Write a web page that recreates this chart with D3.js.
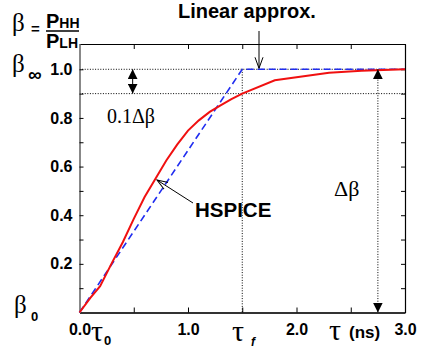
<!DOCTYPE html>
<html>
<head>
<meta charset="utf-8">
<script src="https://cdn.jsdelivr.net/npm/d3@7"></script>
<style>
  html, body { margin: 0; padding: 0; background: #fff; }
  svg { display: block; }
  .sans { font-family: "Liberation Sans", Arial, sans-serif; font-weight: bold; }
  .serif { font-family: "Liberation Serif", "Times New Roman", serif; }
</style>
</head>
<body>
<svg id="chart" width="422" height="351"></svg>
<script>
// ---- data ----
const hspiceTau  = [0, 0.1, 0.19, 0.3, 0.4, 0.5, 0.6, 0.7, 0.8, 0.9, 1.0, 1.1, 1.2, 1.3, 1.4, 1.5, 1.8, 2.3, 2.6, 3.0];
const hspiceBeta = [0, 0.06, 0.108, 0.205, 0.29, 0.385, 0.475, 0.55, 0.625, 0.69, 0.748, 0.79, 0.825, 0.852, 0.877, 0.9, 0.955, 0.986, 0.994, 1.0];
const linearTau  = [0, 1.5, 3.0];
const linearBeta = [0, 1.0, 1.0];
const xTickValues = [0, 0.5, 1.0, 1.5, 2.0, 2.5, 3.0];
const xTickLabels = ["0.0", "", "1.0", "", "2.0", "", "3.0"];
const yTickValues = [0.1, 0.2, 0.3, 0.4, 0.5, 0.6, 0.7, 0.8, 0.9, 1.0];
const yTickLabels = ["", "0.2", "", "0.4", "", "0.6", "", "0.8", "", "1.0"];
const tauF = 1.5;
const betaInf = 1.0, betaTen = 0.9;
const smallArrowTau = 0.49, bigArrowTau = 2.75;

// ---- layout ----
const svg = d3.select("#chart");
const L = 79.5, R = 405, T = 44, B = 312.5;
const x = d3.scaleLinear().domain([0, 3]).range([L, R]);
const y = d3.scaleLinear().domain([0, 1.104]).range([B, T]);

svg.append("rect").attr("width", 422).attr("height", 351).attr("fill", "#fff");

// markers
const defs = svg.append("defs");
defs.append("marker").attr("id", "tri").attr("viewBox", "0 0 10 10")
  .attr("refX", 10).attr("refY", 5).attr("markerWidth", 10).attr("markerHeight", 10)
  .attr("markerUnits", "userSpaceOnUse").attr("orient", "auto-start-reverse")
  .append("path").attr("d", "M0,0 L10,5 L0,10 Z").attr("fill", "#000");
defs.append("marker").attr("id", "vee").attr("viewBox", "0 0 12 10")
  .attr("refX", 11).attr("refY", 5).attr("markerWidth", 12).attr("markerHeight", 10)
  .attr("markerUnits", "userSpaceOnUse").attr("orient", "auto")
  .append("path").attr("d", "M0,1 L11,5 L0,9").attr("fill", "none").attr("stroke", "#000").attr("stroke-width", 1);

// dotted reference lines
const dot = "1,1.6";
svg.append("line").attr("x1", L).attr("x2", R).attr("y1", y(betaInf)).attr("y2", y(betaInf))
  .attr("stroke", "#000").attr("stroke-width", 1).attr("stroke-dasharray", dot);
svg.append("line").attr("x1", L).attr("x2", R).attr("y1", y(betaTen)).attr("y2", y(betaTen))
  .attr("stroke", "#000").attr("stroke-width", 1).attr("stroke-dasharray", dot);
svg.append("line").attr("x1", x(tauF)).attr("x2", x(tauF)).attr("y1", y(betaInf)).attr("y2", B)
  .attr("stroke", "#000").attr("stroke-width", 1).attr("stroke-dasharray", dot);

// axes
const gBottom = svg.append("g").attr("transform", `translate(0,${B})`)
  .call(d3.axisBottom(x).tickValues(xTickValues).tickFormat((d, i) => xTickLabels[i])
    .tickSizeInner(-5).tickSizeOuter(0).tickPadding(11));
const gTop = svg.append("g").attr("transform", `translate(0,${T})`)
  .call(d3.axisTop(x).tickValues(xTickValues).tickFormat("").tickSizeInner(-5).tickSizeOuter(0));
const gLeft = svg.append("g").attr("transform", `translate(${L},0)`)
  .call(d3.axisLeft(y).tickValues(yTickValues).tickFormat((d, i) => yTickLabels[i])
    .tickSizeInner(-4).tickSizeOuter(0).tickPadding(7));
const gRight = svg.append("g").attr("transform", `translate(${R},0)`)
  .call(d3.axisRight(y).tickValues(yTickValues).tickFormat("").tickSizeInner(-4).tickSizeOuter(0));

[gBottom, gTop, gLeft, gRight].forEach(g => {
  g.selectAll("text").attr("class", "sans").attr("font-size", 16).attr("fill", "#000");
  g.selectAll(".tick line").attr("stroke", "#000");
});
gTop.select(".domain").attr("stroke", "#000").attr("stroke-width", 1);
gRight.select(".domain").attr("stroke", "#000").attr("stroke-width", 1.2);
gLeft.select(".domain").attr("stroke", "#888").attr("stroke-width", 2);
gBottom.select(".domain").attr("stroke", "#333").attr("stroke-width", 2);

// series
const line = d3.line().x(d => x(d[0])).y(d => y(d[1]));
svg.append("path").datum(linearTau.map((t, i) => [t, linearBeta[i]]))
  .attr("d", line).attr("fill", "none").attr("stroke", "#1f2cf0")
  .attr("stroke-width", 1.6).attr("stroke-dasharray", "7,4");
svg.append("path").datum(hspiceTau.map((t, i) => [t, hspiceBeta[i]]))
  .attr("d", line).attr("fill", "none").attr("stroke", "#f01010")
  .attr("stroke-width", 2);

// double arrows
svg.append("line").attr("x1", x(smallArrowTau)).attr("x2", x(smallArrowTau))
  .attr("y1", y(betaInf)).attr("y2", y(betaTen)).attr("stroke", "#000").attr("stroke-width", 1)
  .attr("marker-start", "url(#tri)").attr("marker-end", "url(#tri)");
svg.append("line").attr("x1", x(bigArrowTau)).attr("x2", x(bigArrowTau))
  .attr("y1", y(betaInf)).attr("y2", y(0)).attr("stroke", "#000").attr("stroke-width", 1)
  .attr("stroke-dasharray", dot)
  .attr("marker-start", "url(#tri)").attr("marker-end", "url(#tri)");

// annotation arrows
svg.append("line").attr("x1", 259).attr("x2", 259).attr("y1", 31).attr("y2", y(betaInf) - 1)
  .attr("stroke", "#000").attr("stroke-width", 1).attr("marker-end", "url(#vee)");
svg.append("line").attr("x1", 193).attr("x2", 157).attr("y1", 203).attr("y2", 180)
  .attr("stroke", "#000").attr("stroke-width", 1).attr("marker-end", "url(#vee)");

// texts
svg.append("text").attr("class", "sans").attr("x", 178).attr("y", 18).attr("font-size", 20).text("Linear approx.");
svg.append("text").attr("class", "sans").attr("x", 195).attr("y", 217).attr("font-size", 20.5).text("HSPICE");
svg.append("text").attr("class", "serif").attr("x", 107).attr("y", 123).attr("font-size", 20).text("0.1Δβ");
svg.append("text").attr("class", "serif").attr("x", 334).attr("y", 196).attr("font-size", 22).text("Δβ");

// formula
svg.append("text").attr("class", "serif").attr("x", 12).attr("y", 31).attr("font-size", 25).text("β");
svg.append("text").attr("class", "sans").attr("x", 31).attr("y", 34).attr("font-size", 15).attr("font-weight", "normal").text("=");
const num = svg.append("text").attr("class", "sans").attr("x", 46).attr("y", 28);
num.append("tspan").attr("font-size", 20).text("P");
num.append("tspan").attr("font-size", 14).text("HH");
svg.append("line").attr("x1", 46).attr("x2", 79).attr("y1", 31).attr("y2", 31).attr("stroke", "#000").attr("stroke-width", 1.5);
const den = svg.append("text").attr("class", "sans").attr("x", 46).attr("y", 48);
den.append("tspan").attr("font-size", 20).text("P");
den.append("tspan").attr("font-size", 14).text("LH");

// beta_inf / beta_0
svg.append("text").attr("class", "serif").attr("x", 12).attr("y", 72).attr("font-size", 25).text("β");
svg.append("text").attr("class", "sans").attr("x", 28).attr("y", 81).attr("font-size", 19).text("∞");
svg.append("text").attr("class", "serif").attr("x", 14).attr("y", 313).attr("font-size", 25).text("β");
svg.append("text").attr("class", "sans").attr("x", 31).attr("y", 321).attr("font-size", 13).text("0");

// tau labels
svg.append("text").attr("class", "serif").attr("x", 91).attr("y", 341).attr("font-size", 30).text("τ");
svg.append("text").attr("class", "sans").attr("x", 104).attr("y", 345).attr("font-size", 13).text("0");
svg.append("text").attr("class", "serif").attr("x", 232).attr("y", 341).attr("font-size", 30).text("τ");
svg.append("text").attr("class", "sans").attr("x", 251).attr("y", 346).attr("font-size", 12).attr("font-style", "italic").text("f");
svg.append("text").attr("class", "serif").attr("x", 329).attr("y", 340).attr("font-size", 30).text("τ");
svg.append("text").attr("class", "sans").attr("x", 349).attr("y", 338).attr("font-size", 17).text("(ns)");
</script>
</body>
</html>
